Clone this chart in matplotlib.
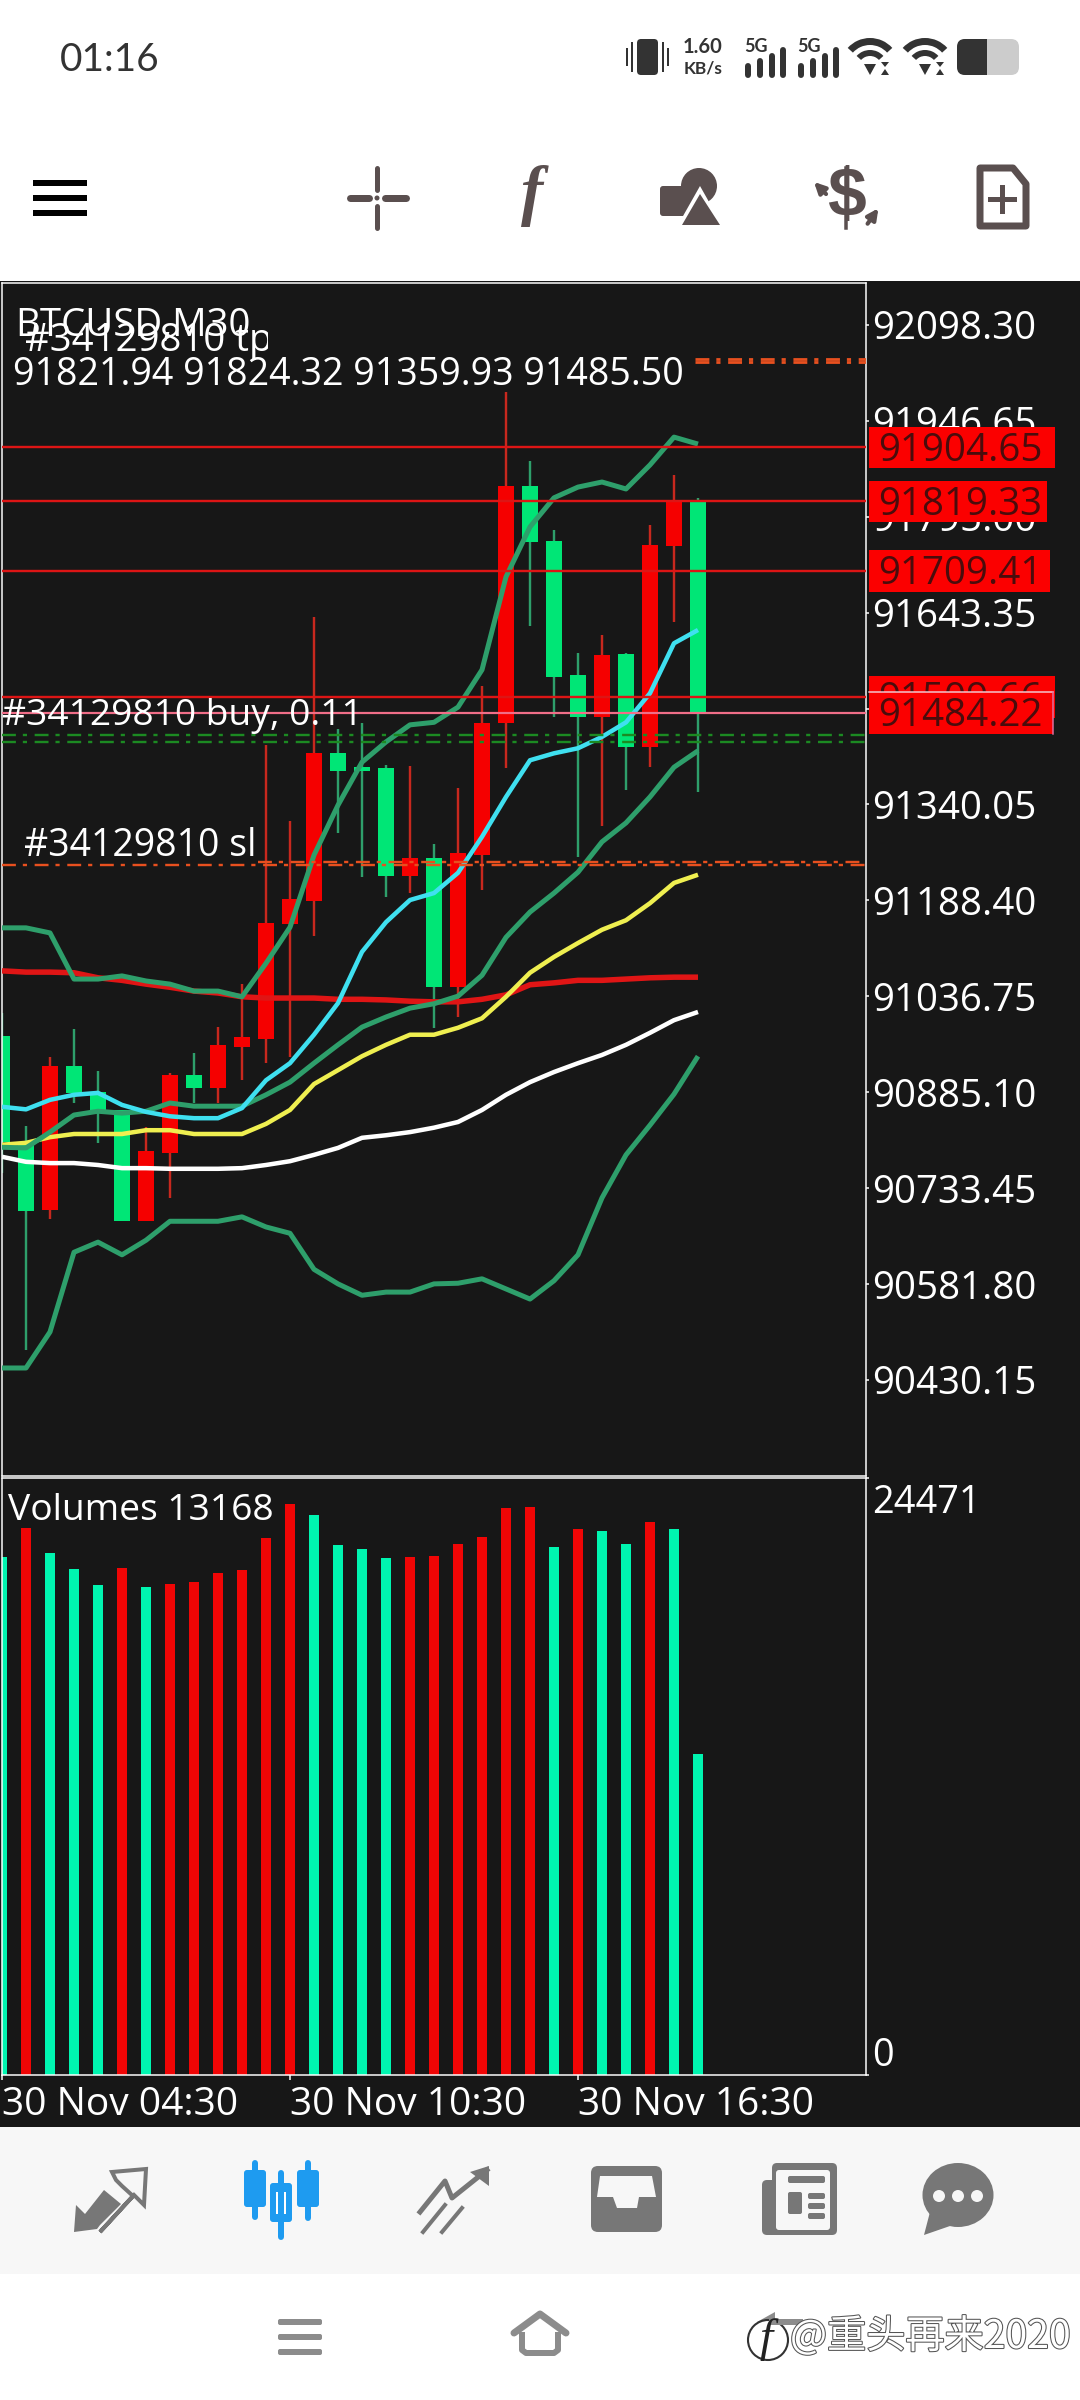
#!/usr/bin/env python3
"""BTCUSD M30 chart screenshot: candles, moving averages, bands, volumes and the phone UI around them."""

import matplotlib
matplotlib.use('Agg')
import matplotlib.pyplot as plt
import matplotlib.patheffects as pe
from matplotlib.patches import Circle, Ellipse, FancyBboxPatch, Polygon, Rectangle, Wedge
from matplotlib.transforms import ScaledTranslation, blended_transform_factory

plt.rcParams['font.family'] = ['Open Sans', 'DejaVu Sans']
plt.rcParams['lines.scale_dashes'] = False

# candles, index 0 is half cut off by the left border
opens = [90974, 90802, 90699, 90927, 90885, 90857, 90681, 90789, 90912, 90892,
         90957, 90969, 91151, 91187, 91422, 91399, 91398, 91227, 91255, 91052,
         91260, 91469, 91844, 91757, 91545, 91478, 91578, 91431, 91749, 91821.94]
highs = [91010, 90832, 90941, 90985, 90919, 90857, 90830, 90916, 90947, 90988,
         91056, 91434, 91314, 91637, 91459, 91469, 91403, 91401, 91278, 91366,
         91527, 91992, 91883, 91774, 91580, 91608, 91580, 91782, 91861, 91824.32]
lows = [90757, 90477, 90685, 90868, 90805, 90681, 90681, 90718, 90868, 90868,
        90904, 90931, 90941, 91132, 91295, 91225, 91194, 91200, 90987, 91004,
        91205, 91398, 91622, 91478, 91257, 91306, 91363, 91399, 91629, 91359.93]
closes = [90806, 90697, 90927, 90884, 90854, 90681, 90792, 90912, 90892, 90960,
          90972, 91153, 91191, 91422, 91393, 91393, 91227, 91255, 91052, 91263,
          91469, 91844, 91755, 91542, 91478, 91576, 91431, 91750, 91820, 91485.50]

# indicators
band_upper = [91145, 91145, 91137, 91064, 91064, 91069, 91061, 91056, 91045, 91045,
              91036, 91089, 91146, 91260, 91339, 91407, 91439, 91466, 91470, 91494,
              91553, 91700, 91779, 91825, 91842, 91850, 91839, 91877, 91921, 91910]
band_middle = [90798, 90797, 90822, 90849, 90855, 90852, 90855, 90868, 90863, 90863,
               90863, 90881, 90901, 90931, 90960, 90988, 91004, 91018, 91025, 91037,
               91070, 91130, 91170, 91200, 91233, 91281, 91311, 91352, 91399, 91425]
band_lower = [90449, 90449, 90506, 90632, 90648, 90628, 90651, 90681, 90681, 90681,
              90688, 90672, 90662, 90605, 90582, 90564, 90569, 90569, 90582, 90583,
              90590, 90574, 90558, 90587, 90628, 90718, 90786, 90833, 90882, 90942]
ma_cyan = [90862, 90858, 90873, 90881, 90884, 90865, 90854, 90847, 90844, 90844,
           90860, 90904, 90931, 90976, 91026, 91107, 91154, 91189, 91200, 91232,
           91289, 91352, 91410, 91421, 91429, 91447, 91470, 91516, 91595, 91616]
ma_yellow = [90802, 90805, 90814, 90819, 90819, 90819, 90825, 90825, 90819, 90819,
             90819, 90835, 90857, 90898, 90920, 90942, 90960, 90976, 90976, 90987,
             91002, 91036, 91074, 91099, 91121, 91142, 91157, 91184, 91216, 91229]
ma_red = [91077, 91075, 91075, 91074, 91066, 91062, 91056, 91051, 91045, 91042,
          91036, 91034, 91034, 91034, 91032, 91032, 91031, 91029, 91028, 91028,
          91032, 91039, 91055, 91058, 91062, 91062, 91064, 91066, 91067, 91067]
ma_white = [90783, 90775, 90773, 90773, 90770, 90765, 90765, 90764, 90764, 90764,
            90765, 90770, 90776, 90786, 90797, 90813, 90817, 90822, 90829, 90838,
            90857, 90881, 90901, 90917, 90931, 90944, 90960, 90979, 90999, 91012]

# volume pane
volumes = [21243, 22415, 21377, 20758, 20071, 20791, 19988, 20121, 20222, 20573,
           20691, 22030, 23386, 22967, 21745, 21544, 21210, 21243, 21293, 21779,
           22063, 23252, 23302, 21662, 22365, 22281, 21779, 22683, 22398, 13168]
volume_up = [0, 1, 0, 0, 0, 1, 0, 1, 1, 1,
             1, 1, 1, 0, 0, 0, 0, 1, 1, 1,
             1, 1, 1, 0, 1, 0, 0, 1, 0, 0]

# price and time axes
price_ticks = [92098.30, 91946.65, 91795.00, 91643.35, 91491.70, 91340.05,
               91188.40, 91036.75, 90885.10, 90733.45, 90581.80, 90430.15]
volume_ticks = [0, 24471]
time_ticks = [0, 12, 24]
time_labels = ['30 Nov 04:30', '30 Nov 10:30', '30 Nov 16:30']

# horizontal levels
red_levels = [91904.65, 91819.33, 91709.41, 91509.66]
red_labels = ['91904.65', '91819.33', '91709.41', '91509.66']
tag_right_px = [1055, 1047, 1050, 1055]
bid_level = 91484.22
buy_levels = [91450, 91439]
sl_levels = [91244, 91249]
tp_levels = [92039, 92044]

BG = '#171717'
GREEN = '#00E676'
RED = '#F50000'
BAND = '#2E9F6B'
ORANGE = '#E8501F'
ICON = '#5A4F4F'
NAV = '#777777'
BLUE = '#1E9BF0'
DASHDOT = (0, (10, 5, 3, 5.5))

PX = 0.72  # points per pixel at dpi 100
AXIS_FONT = 27.7


def px_pos(left, top, right, bottom):
    return [left / 1080, 1 - bottom / 2400, (right - left) / 1080, (bottom - top) / 2400]


def px_to_bar(x):
    return (x - 2) / 24


fig = plt.figure(figsize=(10.8, 24), dpi=100, facecolor='white')

# page backgrounds
back = fig.add_axes([0, 0, 1, 1], zorder=0)
back.set_xlim(0, 1080)
back.set_ylim(2400, 0)
back.axis('off')
back.add_patch(Rectangle((0, 281), 1080, 1846, color=BG, lw=0))
back.add_patch(Rectangle((0, 2127), 1080, 147, color='#F7F7F7', lw=0))

# price pane
ax = fig.add_axes(px_pos(2, 283, 866, 1476), zorder=1, facecolor=BG)
ax.set_xlim(0, 36)
ax.set_ylim(90278.2, 92164.7)

bars = range(len(opens))
for i in bars:
    down = closes[i] < opens[i]
    ax.vlines(i, lows[i], highs[i], color=BAND if down else '#C8281E', lw=2.4 * PX, zorder=2)
    ax.bar(i, abs(closes[i] - opens[i]), bottom=min(opens[i], closes[i]), width=0.69,
           color=GREEN if down else RED, zorder=2.2)

for values, color, width in [(ma_red, '#E01515', 5.5), (ma_white, 'white', 4.5),
                             (ma_yellow, '#EFEF50', 4.5), (band_upper, BAND, 5),
                             (band_middle, BAND, 5), (band_lower, BAND, 5),
                             (ma_cyan, '#3FE0F0', 4.5)]:
    ax.plot(bars, values, color=color, lw=width * PX, solid_joinstyle='round',
            solid_capstyle='butt', zorder=3)

for level in red_levels:
    ax.axhline(level, color='#DD1515', lw=2.4 * PX, zorder=4)
ax.axhline(bid_level, color='#F06E88', lw=2.2 * PX, zorder=4)

for level in buy_levels:
    ax.plot([0, 36], [level, level], color='#1C8A22', lw=2.4 * PX, ls=DASHDOT, zorder=3.5)
ax.plot([0, 36], [sl_levels[0], sl_levels[0]], color=ORANGE, lw=2.4 * PX, ls=DASHDOT, zorder=3.5)
ax.plot([px_to_bar(258), 36], [sl_levels[1], sl_levels[1]], color=ORANGE, lw=2.4 * PX, ls=DASHDOT, zorder=3.5)
for level in tp_levels:
    ax.plot([px_to_bar(695), 36], [level, level], color=ORANGE, lw=2.8 * PX, ls=DASHDOT, zorder=3.5)

ax.yaxis.tick_right()
ax.set_yticks(price_ticks, [f'{v:.2f}' for v in price_ticks])
ax.set_xticks([])
ax.tick_params(axis='y', colors='white', length=3 * PX, width=1.5 * PX, labelsize=AXIS_FONT, pad=2)
for spine in ax.spines.values():
    spine.set_color('white')
    spine.set_linewidth(1.5 * PX)

# red price tags on the right of the pane
tag_trans = blended_transform_factory(ax.transAxes, ax.transData)
tag_height = 66
tag_left = (869 - 2) / 864
text_left = (878 - 2) / 864
text_drop = 5  # price units, keeps the digits centred in the tag
for level, label_text, right in zip(red_levels, red_labels, tag_right_px):
    ax.add_patch(Rectangle((tag_left, level - tag_height / 2), (right - 869) / 864, tag_height,
                           transform=tag_trans, color='#FB0000', lw=0, clip_on=False, zorder=6))
    ax.text(text_left, level - text_drop, label_text, transform=tag_trans, color='#4A0C0C', fontsize=AXIS_FONT,
            va='center', ha='left', clip_on=False, zorder=6.1)
# last tag sits on top of the 91509 one
ax.add_patch(Rectangle((tag_left, bid_level - tag_height / 2), (1053 - 869) / 864, tag_height,
                       transform=tag_trans, facecolor='#FB0000', edgecolor='none', clip_on=False, zorder=6.2))
ax.plot([tag_left, tag_left + 184 / 864], [bid_level + tag_height / 2] * 2, transform=tag_trans,
        color='#F4C8D0', lw=1.5 * PX, clip_on=False, zorder=6.3)
ax.plot([tag_left + 184 / 864] * 2, [bid_level - tag_height / 2, bid_level + tag_height / 2],
        transform=tag_trans, color='#E070A0', lw=1.5 * PX, clip_on=False, zorder=6.3)
ax.text(text_left, bid_level - text_drop, '91484.22', transform=tag_trans, color='#4A0C0C', fontsize=AXIS_FONT,
        va='center', ha='left', clip_on=False, zorder=6.4)

# volume pane
ax_vol = fig.add_axes(px_pos(2, 1478, 866, 2075), zorder=1, facecolor=BG)
ax_vol.set_xlim(0, 36)
ax_vol.set_ylim(0, 24471)
ax_vol.bar(range(len(volumes)), volumes, width=0.4,
           color=['#F00505' if up else '#00F5B0' for up in volume_up])
ax_vol.yaxis.tick_right()
ax_vol.set_yticks(volume_ticks, [str(v) for v in volume_ticks])
ax_vol.set_xticks(time_ticks, time_labels, ha='left')
ax_vol.tick_params(axis='y', colors='white', length=3 * PX, width=1.5 * PX, labelsize=27.3, pad=2)
ax_vol.tick_params(axis='x', colors='white', length=5 * PX, width=1.5 * PX, labelsize=28, pad=4)
labels = ax_vol.get_yticklabels()
labels[0].set_va('bottom')
labels[1].set_va('top')
labels[1].set_transform(labels[1].get_transform() + ScaledTranslation(0, -6 / 100, fig.dpi_scale_trans))
for spine in ax_vol.spines.values():
    spine.set_color('white')
    spine.set_linewidth(1.5 * PX)

# everything else in plain pixels
ui = fig.add_axes([0, 0, 1, 1], zorder=5)
ui.set_xlim(0, 1080)
ui.set_ylim(2400, 0)
ui.axis('off')
ui.patch.set_alpha(0)


def label(x, y, text, clip_right=None, size=27.1, color='white', **kw):
    t = ui.text(x, y, text, color=color, fontsize=size, va='center', ha='left', **kw)
    if clip_right is not None:
        t.set_clip_path(Rectangle((0, y - 40), clip_right, 80, transform=ui.transData))
        t.set_clip_on(True)
    return t


def rrect(x0, y0, x1, y1, rad, **kw):
    ui.add_patch(FancyBboxPatch((x0 + rad, y0 + rad), x1 - x0 - 2 * rad, y1 - y0 - 2 * rad,
                                boxstyle=f'round,pad={rad}', lw=0, **kw))


label(15, 326, 'BTCUSD,M30', size=27.6)
label(25, 341, '#34129810 tp', clip_right=268, size=27.6)
label(13, 375, '91821.94 91824.32 91359.93 91485.50')
label(2, 716, '#34129810 buy, 0.11', size=26.7)
label(24, 846, '#34129810 sl', clip_right=257, size=27)
label(8, 1511, 'Volumes 13168', size=26.8)

# status bar
label(60, 60, '01:16', size=28, color='#333333', family='Lato')
rrect(637, 39, 658, 75, 4, color='#333333')
for x, h in [(627, 8), (632, 14), (663, 14), (668, 8)]:
    ui.plot([x, x], [57 - h, 57 + h], color='#333333', lw=2 * PX)
label(683, 47, '1.60', size=14.5, color='#333333', family='Lato', fontweight='bold')
label(684, 68, 'KB/s', size=12.5, color='#333333', family='Lato', fontweight='bold')
for x0 in (745, 798):
    label(x0 - 1, 47, '5G', size=13, color='#333333', family='Lato', fontweight='bold')
    for dx, top in [(3, 66), (15, 61), (27, 56), (38, 50)]:
        ui.plot([x0 + dx, x0 + dx], [top, 75], color='#333333', lw=6 * PX, solid_capstyle='round')
for cx in (870, 925):
    ui.add_patch(Wedge((cx, 68), 30, 222, 318, width=7, color='#333333', lw=0))
    ui.add_patch(Wedge((cx, 68), 18, 222, 318, width=6, color='#333333', lw=0))
    ui.add_patch(Polygon([(cx - 6, 64), (cx + 6, 64), (cx, 75)], color='#333333', lw=0))
    ui.add_patch(Polygon([(cx + 11, 62), (cx + 19, 62), (cx + 15, 67)], color='#333333', lw=0))
    ui.add_patch(Polygon([(cx + 11, 75), (cx + 19, 75), (cx + 15, 69)], color='#333333', lw=0))
rrect(957, 39, 1019, 75, 8, color='#CCCCCC')
rrect(957, 39, 992, 75, 8, color='#333333')
ui.add_patch(Rectangle((980, 39), 7, 36, color='#333333', lw=0))
ui.add_patch(Rectangle((987, 39), 6, 36, color='#CCCCCC', lw=0))

# toolbar
for y in (180, 195, 210):
    ui.add_patch(Rectangle((33, y), 54, 6, color='black', lw=0))

ui.plot([377, 377], [168, 190], color=ICON, lw=5 * PX, solid_capstyle='round')
ui.plot([377, 377], [206, 228], color=ICON, lw=5 * PX, solid_capstyle='round')
ui.plot([350, 369], [198, 198], color=ICON, lw=7 * PX, solid_capstyle='round')
ui.plot([385, 406], [198, 198], color=ICON, lw=7 * PX, solid_capstyle='round')
ui.add_patch(Circle((377, 198), 2.5, color=ICON, lw=0))

ui.text(532, 196, 'f', color=ICON, fontsize=48, family='Liberation Serif', style='italic',
        fontweight='bold', ha='center', va='center')

rrect(660, 186, 692, 216, 3, color=ICON)
ui.add_patch(Circle((699, 186), 18, color=ICON, lw=0))
ui.add_patch(Polygon([(700, 186), (726, 232), (674, 232)], color='white', lw=0))
ui.add_patch(Polygon([(700, 194), (720, 225), (682, 225)], color=ICON, lw=0))

ui.text(846, 198, '$', color=ICON, fontsize=50, fontweight='bold', ha='center', va='center',
        family='Liberation Sans')
ui.plot([846, 846], [168, 228], color='white', lw=6 * PX)
ui.plot([846, 846], [168, 228], color=ICON, lw=3.5 * PX)
ui.annotate('', xy=(812, 180), xytext=(828, 196),
            arrowprops=dict(arrowstyle='-|>', color=ICON, lw=3, mutation_scale=16))
ui.annotate('', xy=(880, 206), xytext=(866, 226),
            arrowprops=dict(arrowstyle='-|>', color=ICON, lw=3, mutation_scale=16))

ui.add_patch(Polygon([(980, 168), (1013, 168), (1026, 184), (1026, 226), (980, 226)],
                     closed=True, facecolor='none', edgecolor=ICON, lw=7 * PX, joinstyle='round'))
ui.plot([1002, 1002], [187, 211], color=ICON, lw=5 * PX)
ui.plot([990, 1014], [199, 199], color=ICON, lw=5 * PX)

# bottom tab bar
ui.add_patch(Polygon([(74, 2232), (76, 2205), (85, 2214), (104, 2190), (121, 2204), (100, 2225), (97, 2229)],
                     color=NAV, lw=0))
ui.add_patch(Polygon([(100, 2232), (133, 2196), (122, 2186), (116, 2180), (112, 2172), (146, 2169), (144, 2205),
                      (134, 2195)], closed=True, facecolor='none', edgecolor=NAV, lw=4 * PX))

for x, wick0, wick1, body0, body1 in [(255, 2163, 2217, 2170, 2207), (281, 2173, 2237, 2183, 2222),
                                      (308, 2163, 2218, 2170, 2207)]:
    ui.plot([x, x], [wick0, wick1], color=BLUE, lw=6 * PX, solid_capstyle='round')
    rrect(x - 11, body0, x + 11, body1, 3, color=BLUE)
ui.add_patch(Rectangle((276, 2192), 10, 22, color='white', lw=0))

ui.plot([420, 445, 452, 487], [2212, 2181, 2198, 2170], color=NAV, lw=5 * PX)
ui.add_patch(Polygon([(470, 2172), (489, 2166), (489, 2186)], color=NAV, lw=0))
ui.plot([423, 445], [2232, 2205], color=NAV, lw=4 * PX)
ui.plot([442, 462], [2232, 2208], color=NAV, lw=4 * PX)

rrect(591, 2166, 662, 2232, 7, color=NAV)
ui.add_patch(Polygon([(600, 2176), (652, 2176), (656, 2197), (639, 2197), (637, 2208), (617, 2208),
                      (613, 2197), (597, 2197)], color='#F7F7F7', lw=0))

rrect(762, 2180, 800, 2235, 5, color=NAV)
rrect(772, 2163, 837, 2235, 5, color=NAV)
rrect(776, 2170, 830, 2230, 3, color='#F7F7F7')
rrect(788, 2176, 825, 2183, 2, color=NAV)
rrect(788, 2192, 802, 2214, 2, color=NAV)
for y in (2193, 2203, 2213):
    rrect(808, y, 825, y + 6, 2, color=NAV)

ui.add_patch(Ellipse((958, 2195), 71, 64, color=NAV, lw=0))
ui.add_patch(Polygon([(924, 2235), (930, 2212), (950, 2226)], color=NAV, lw=0))
for x in (939, 958, 977):
    ui.add_patch(Circle((x, 2196), 6, color='#F7F7F7', lw=0))

# navigation bar
for y in (2319, 2334, 2349):
    rrect(278, y, 322, y + 6, 2, color='#8C8C8C')
ui.plot([514, 540, 566], [2333, 2314, 2333], color='#8C8C8C', lw=7 * PX, solid_capstyle='round')
ui.plot([522, 522, 526, 554, 558, 558], [2335, 2350, 2353, 2353, 2350, 2335], color='#8C8C8C', lw=6 * PX)
ui.plot([772, 800], [2322, 2322], color='#8C8C8C', lw=6 * PX)
ui.add_patch(Polygon([(757, 2322), (775, 2312), (775, 2332)], color='#8C8C8C', lw=0))

# watermark
shadow = [pe.withStroke(linewidth=1.5, foreground='#555555')]
ui.add_patch(Circle((768, 2340), 20, facecolor='white', edgecolor='#333333', lw=1.5))
ui.text(766, 2340, 'f', color='#222222', fontsize=34, family='Liberation Serif', style='italic',
        ha='center', va='center')
ui.text(790, 2337, '@重头再来2020', color='white', fontsize=28.2, ha='left', va='center',
        family=['Noto Sans CJK SC', 'DejaVu Sans'], path_effects=shadow)

fig.savefig('out.png', dpi=100)
